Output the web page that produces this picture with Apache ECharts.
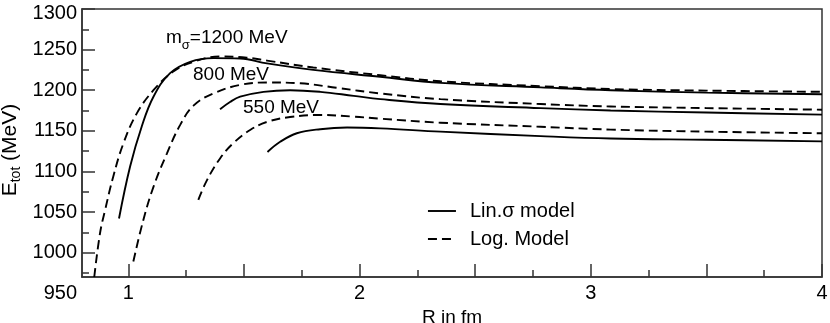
<!DOCTYPE html>
<html><head><meta charset="utf-8">
<script src="https://cdn.jsdelivr.net/npm/echarts@6/dist/echarts.min.js"></script>
<style>html,body{margin:0;padding:0;background:#fff}#c{width:830px;height:323px}</style>
</head><body><div id="c"></div>
<script>
// ---- tick values / labels ----
const xTickMajor = [1, 1.5, 2, 2.5, 3, 3.5, 4];
const xTickMinor = [1.25, 1.75, 2.25, 2.75, 3.25, 3.75];
const xTickLabels = [1, 2, 3, 4];
const yTickMajor = [1000, 1050, 1100, 1150, 1200, 1250, 1300];
const yTickMinor = [975, 1025, 1075, 1125, 1175, 1225, 1275];
const yExtraLabel = 950;

// ---- series data (R in fm, E_tot in MeV) ----
const xLin1200 = [0.960, 1.008, 1.058, 1.109, 1.181, 1.268, 1.368, 1.484, 1.600, 1.8, 2.09, 2.35, 2.783, 3.086, 3.5, 4.0];
const yLin1200 = [1042, 1106, 1155, 1192, 1221, 1235, 1239.5, 1239, 1233, 1225, 1216.5, 1209, 1203.5, 1200, 1197, 1195];

const xLog1200 = [0.853, 0.878, 0.900, 0.935, 0.979, 1.037, 1.109, 1.195, 1.282, 1.397, 1.513, 1.6, 1.8, 2.09, 2.35, 2.783, 3.086, 3.5, 4.0];
const yLog1200 = [970, 1024, 1052.5, 1093.5, 1134.5, 1171.5, 1200, 1223, 1235, 1241.5, 1240, 1236.5, 1228, 1218.5, 1211, 1205, 1201.5, 1199.5, 1198];

const xLin800 = [1.397, 1.44, 1.484, 1.585, 1.70, 1.83, 1.975, 2.09, 2.35, 2.783, 3.086, 3.5, 4.0];
const yLin800 = [1176.5, 1185.5, 1192, 1198, 1200, 1198, 1193, 1189, 1183, 1178, 1175, 1172.5, 1170];

const xLog800 = [1.022, 1.065, 1.109, 1.167, 1.224, 1.282, 1.368, 1.484, 1.6, 1.744, 1.9, 2.09, 2.35, 2.783, 3.086, 3.5, 4.0];
const yLog800 = [989, 1040, 1081, 1122, 1157, 1181, 1196, 1206.5, 1209.5, 1208.5, 1203, 1196, 1189, 1183, 1180, 1178, 1176];

const xLin550 = [1.602, 1.657, 1.729, 1.83, 1.946, 2.09, 2.35, 2.783, 3.086, 3.5, 4.0];
const yLin550 = [1124, 1136.5, 1147, 1152, 1154, 1153, 1149, 1143.5, 1140.5, 1139, 1137];

const xLog550 = [1.303, 1.34, 1.397, 1.455, 1.527, 1.6, 1.70, 1.83, 1.975, 2.09, 2.35, 2.783, 3.086, 3.5, 4.0];
const yLog550 = [1065, 1089, 1116, 1135, 1151, 1161, 1167, 1169.5, 1167.5, 1165, 1160, 1155, 1151.5, 1149, 1147];

const nameLin = 'Lin.σ model';
const nameLog = 'Log. Model';

// ---- build ----
const FONT = '"Liberation Sans", Arial, Helvetica, sans-serif';
const AX = '#333';
function zip(xs, ys) { return xs.map((x, i) => [x, ys[i]]); }
function lineSeries(name, xs, ys, dashed) {
  return {
    type: 'line', name: name, data: zip(xs, ys), xAxisIndex: 0, yAxisIndex: 0,
    showSymbol: false, symbol: 'none', smooth: 0.4,
    silent: true, animation: false, color: '#000',
    itemStyle: { color: '#000' },
    lineStyle: { color: '#000', width: 1.9, type: dashed ? [9, 5] : 'solid' }
  };
}

const chart = echarts.init(document.getElementById('c'), null, { renderer: 'canvas' });
chart.setOption({
  animation: false,
  backgroundColor: '#fff',
  textStyle: { fontFamily: FONT },
  grid: { left: 82, right: 8, top: 9, bottom: 46, containLabel: false, outerBoundsMode: 'none',
          show: true, borderColor: AX, borderWidth: 1.5, backgroundColor: 'transparent' },
  legend: {
    data: [nameLin, nameLog], orient: 'vertical', left: 427, top: 201, padding: 0,
    itemWidth: 28, itemHeight: 14, itemGap: 8, selectedMode: false,
    itemStyle: { opacity: 0 },
    lineStyle: { color: '#000', width: 1.9 },
    textStyle: { fontSize: 20, color: '#000', fontFamily: FONT, padding: [0, 0, 0, 9], lineHeight: 20 }
  },
  xAxis: [
    {
      type: 'value', min: 0.8, max: 4, position: 'bottom',
      axisLine: { show: true, lineStyle: { color: AX, width: 1.5 } },
      axisTick: { show: true, inside: true, length: 13, customValues: xTickMajor, lineStyle: { color: AX, width: 1.5 } },
      axisLabel: { customValues: xTickLabels, fontSize: 20, color: '#000', margin: 6, fontFamily: FONT },
      splitLine: { show: false },
      name: 'R in fm', nameLocation: 'middle', nameGap: 26,
      nameTextStyle: { fontSize: 19, color: '#000', fontFamily: FONT }
    },
    {
      type: 'value', min: 0.8, max: 4, position: 'bottom',
      axisLine: { show: false },
      axisTick: { show: true, inside: true, length: 7, customValues: xTickMinor, lineStyle: { color: AX, width: 1.5 } },
      axisLabel: { show: false }, splitLine: { show: false }
    }
  ],
  yAxis: [
    {
      type: 'value', min: 970, max: 1300, position: 'left',
      axisLine: { show: true, lineStyle: { color: AX, width: 1.5 } },
      axisTick: { show: true, inside: true, length: 13, customValues: yTickMajor, lineStyle: { color: AX, width: 1.5 } },
      axisLabel: {
        customValues: yTickMajor, fontSize: 20, color: '#000', margin: 5, fontFamily: FONT,
        formatter: v => v === 1300 ? '{t|1300}' : String(v),
        rich: { t: { fontSize: 20, color: '#000', fontFamily: FONT, padding: [8, 0, 0, 0] } }
      },
      splitLine: { show: false }
    },
    {
      type: 'value', min: 970, max: 1300, position: 'left',
      axisLine: { show: false },
      axisTick: { show: true, inside: true, length: 7, customValues: yTickMinor, lineStyle: { color: AX, width: 1.5 } },
      axisLabel: { show: false }, splitLine: { show: false }
    }
  ],
  series: [
    lineSeries(nameLin, xLin1200, yLin1200, false),
    lineSeries(nameLog, xLog1200, yLog1200, true),
    lineSeries(nameLin, xLin800, yLin800, false),
    lineSeries(nameLog, xLog800, yLog800, true),
    lineSeries(nameLin, xLin550, yLin550, false),
    lineSeries(nameLog, xLog550, yLog550, true)
  ]
});

// extra "950" label below the axis, positioned through the axis scale
const axisLeftPx = chart.convertToPixel({ xAxisIndex: 0 }, 0.8);
const y950 = chart.convertToPixel({ yAxisIndex: 0 }, yExtraLabel);
const mainRich = { m: { fontSize: 19, color: '#000', fontFamily: FONT, lineHeight: 20 } };
chart.setOption({
  graphic: [
    { type: 'text', x: axisLeftPx - 5, y: y950, silent: true,
      style: { text: String(yExtraLabel), fontSize: 20, fill: '#000', fontFamily: FONT, align: 'right', verticalAlign: 'middle' } },
    { type: 'text', x: 10, y: 150, rotation: Math.PI / 2, silent: true,
      style: { text: '{m|E}{s|tot}{m| (MeV)}', align: 'center', verticalAlign: 'middle',
        rich: {
          m: { fontSize: 21, color: '#000', fontFamily: FONT, lineHeight: 22 },
          s: { fontSize: 14, color: '#000', fontFamily: FONT, padding: [13, 0, 0, 0] }
        } } },
    { type: 'text', x: 166, y: 37.5, silent: true,
      style: { text: '{m|m}{s|σ}{m|=1200 MeV}', align: 'left', verticalAlign: 'middle',
        rich: Object.assign({}, mainRich, { s: { fontSize: 13, color: '#000', fontFamily: FONT, padding: [16, 0, 0, 0] } }) } },
    { type: 'text', x: 193, y: 75, silent: true,
      style: { text: '800 MeV', fontSize: 19, fill: '#000', fontFamily: FONT, align: 'left', verticalAlign: 'middle' } },
    { type: 'text', x: 243, y: 108, silent: true,
      style: { text: '550 MeV', fontSize: 19, fill: '#000', fontFamily: FONT, align: 'left', verticalAlign: 'middle' } }
  ]
});
</script></body></html>
